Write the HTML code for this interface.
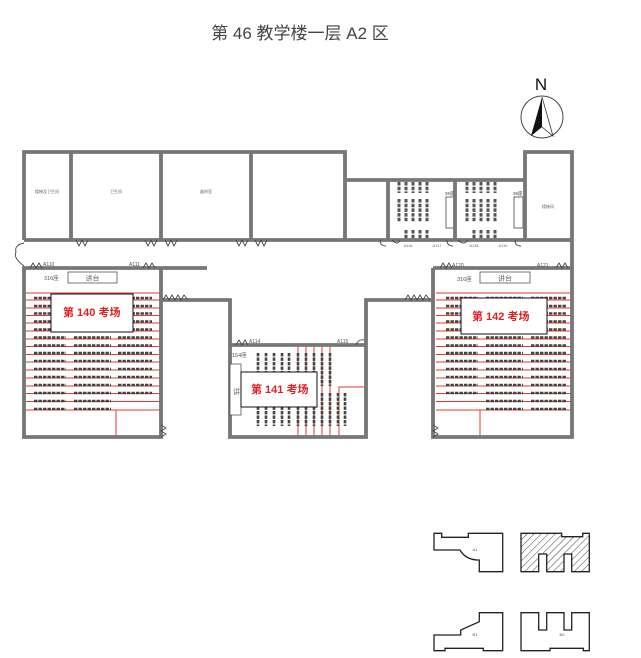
<!DOCTYPE html>
<html><head><meta charset="utf-8"><style>
html,body{margin:0;padding:0;background:#fff;}
svg{display:block;}
text{font-family:"Liberation Sans","Noto Sans CJK SC",sans-serif;}
</style></head><body>
<svg width="641" height="658" viewBox="0 0 641 658" xmlns="http://www.w3.org/2000/svg">
<defs>
<g id="r3" stroke="#444" stroke-width="2.6" stroke-dasharray="3.4 1.1" fill="none">
<path d="M34 0H66M74 0H111M118 0H152"/></g>
<g id="r2a" stroke="#444" stroke-width="2.6" stroke-dasharray="3.4 1.1" fill="none">
<path d="M34 0H66M74 0H111"/></g>
<g id="q3" stroke="#444" stroke-width="2.6" stroke-dasharray="3.4 1.1" fill="none">
<path d="M446 0H478M486 0H523M531 0H566"/></g>
<g id="q2" stroke="#444" stroke-width="2.6" stroke-dasharray="3.4 1.1" fill="none">
<path d="M486 0H523M531 0H566"/></g>
<g id="cls" stroke="#555" stroke-width="3" stroke-dasharray="3.5 1.2" fill="none">
<path d="M399 182V193M406 182V193M413 182V193M420 182V193M427 182V193M399 199V222M406 199V222M413 199V222M420 199V222M427 199V222M406 230V239M413 230V239M420 230V239M427 230V239"/></g>
</defs>

<text x="300" y="39" font-size="17" fill="#444" text-anchor="middle">第 46 教学楼一层 A2 区</text>

<!-- compass -->
<text x="541" y="90" font-size="17" fill="#111" text-anchor="middle">N</text>
<circle cx="542" cy="117" r="21" fill="none" stroke="#444" stroke-width="1"/>
<path d="M542 97 L531 136 L542 127 Z" fill="#111"/>
<path d="M542 97 L553 136 L542 127" fill="none" stroke="#333" stroke-width="0.8"/>

<!-- red lines -->
<g stroke="#e53935" stroke-width="1" fill="none">
<path d="M26 293H160M26 300H160M26 308H160M26 315.5H160M26 323H160M26 331H160M26 339H160M26 346.5H160M26 354.5H160M26 362H160M26 370H160M26 378H160M26 386H160M26 393.5H160M26 401.5H160M26 410H160 M116 410V437"/>
<path d="M436 293H572M436 300H572M436 308H572M436 315.5H572M436 323H572M436 331H572M436 339H572M436 346.5H572M436 354.5H572M436 362H572M436 370H572M436 378H572M436 386H572M436 393.5H572M436 401.5H572M436 410H572 M480 410V437"/>
<path d="M298 347V437M306 347V437M314 347V437M322 347V437M330 347V437M339 437V387H366"/>
</g>
<!-- seats 140 -->
<use href="#r3" y="298"/><use href="#r3" y="306"/><use href="#r3" y="313.5"/><use href="#r3" y="321.5"/><use href="#r3" y="329.5"/><use href="#r3" y="337.5"/><use href="#r3" y="345.5"/><use href="#r3" y="353"/><use href="#r3" y="361"/><use href="#r3" y="369"/><use href="#r3" y="377"/><use href="#r3" y="385"/><use href="#r3" y="393"/><use href="#r2a" y="401"/><use href="#r2a" y="409"/>
<!-- seats 142 -->
<use href="#q3" y="298"/><use href="#q3" y="306"/><use href="#q3" y="313.5"/><use href="#q3" y="321.5"/><use href="#q3" y="329.5"/><use href="#q3" y="337.5"/><use href="#q3" y="345.5"/><use href="#q3" y="353"/><use href="#q3" y="361"/><use href="#q3" y="369"/><use href="#q3" y="377"/><use href="#q3" y="385"/><use href="#q3" y="393"/><use href="#q2" y="401"/><use href="#q2" y="409"/>
<!-- seats 141 -->
<g stroke="#444" stroke-width="2.6" stroke-dasharray="3.4 1.1" fill="none">
<path d="M258 353V379M266 353V379M274 353V379M282 353V379M289 353V379M298 353V379M306 353V379M314 353V379M322 353V386M330 353V386 M258 393V426M266 393V426M274 393V426M282 393V426M289 393V426M298 393V426M306 393V426M314 393V426M322 393V426M330 393V426M338 393V426M345 393V426"/>
</g>
<!-- classrooms -->
<use href="#cls"/><use href="#cls" x="68"/>
<g fill="#fff" stroke="#444" stroke-width="0.8">
<rect x="446" y="197" width="9" height="31"/><rect x="514" y="197" width="9" height="31"/>
</g>
<text x="445" y="195" font-size="4.5" fill="#444">36座</text>
<text x="513" y="195" font-size="4.5" fill="#444">36座</text>

<!-- walls -->
<g fill="none" stroke-linejoin="miter">
<path id="w" d="M24 240V152H345V180H525V152H572V437H433V268M433 300H366V437H230V300H161M161 268V437H24V268H207M433 268H572M24 240H572M71 152V240M161 152V240M251 152V240M345 180V240M388 180V240M455 180V240M525 180V240M230 345H366" stroke="#777" stroke-width="3.6"/>
<use href="#w" stroke="#fff" stroke-width="1.2"/>
</g>
<!-- doors -->
<g fill="none" stroke="#444" stroke-width="0.9">
<path d="M24 243 Q14 245 16 252 Q13 258 24 266"/>
<path d="M30 268 L33 263 L36 268 L39 263 L42 268"/>
<path d="M143 268 L146 263 L149 268 L152 263 L155 268"/>
<path d="M76 240 L79 246 L82 240 L85 246 L88 240"/>
<path d="M145 240 L148 246 L151 240 L154 246 L157 240"/>
<path d="M165 240 L168 246 L171 240 L174 246 L177 240"/>
<path d="M236 240 L239 246 L242 240 L245 246 L248 240"/>
<path d="M255 240 L258 246 L261 240 L264 246 L267 240"/>
<path d="M163 300 L166 295 L169 300 L172 295 L175 300 L178 295 L181 300 L184 295 L188 300"/>
<path d="M236 345 L239 340 L242 345 L245 340 L248 345"/>
<path d="M356 345 Q358 339 364 340"/>
<path d="M161 425 L166 428 L161 431 L166 434 L161 437"/>
<path d="M405 300 L408 295 L411 300 L414 295 L417 300 L420 295 L423 300 L426 295 L430 300"/>
<path d="M433 425 L438 428 L433 431 L438 434 L433 437"/>
<path d="M440 268 L443 263 L446 268 L449 263 L452 268"/>
<path d="M556 268 L559 263 L562 268 L565 263 L568 268"/>
<path d="M380 240 Q380 246 386 246 M392 240 Q398 246 400 240"/>
<path d="M447 240 Q447 246 453 246 M458 240 Q464 246 468 240"/>
<path d="M515 240 Q515 246 521 246"/>
</g>

<!-- room 140 -->
<rect x="68" y="272" width="49" height="11" fill="#fff" stroke="#555" stroke-width="0.8"/>
<text x="92.5" y="280.5" font-size="7" fill="#666" text-anchor="middle">讲台</text>
<text x="44" y="280" font-size="5.5" fill="#555">316座</text>
<text x="43" y="266" font-size="5" fill="#555">A110</text>
<text x="129" y="266" font-size="5" fill="#555">A111</text>
<rect x="51" y="294" width="82" height="38" fill="#fff" stroke="#111" stroke-width="1"/>
<text x="63" y="316" font-size="11" font-weight="bold" fill="#e02020">第 140 考场</text>

<!-- room 142 -->
<rect x="480" y="272" width="50" height="11" fill="#fff" stroke="#555" stroke-width="0.8"/>
<text x="505" y="280.5" font-size="7" fill="#666" text-anchor="middle">讲台</text>
<text x="457" y="281" font-size="5.5" fill="#555">316座</text>
<text x="452" y="267" font-size="5" fill="#555">A120</text>
<text x="537" y="267" font-size="5" fill="#555">A121</text>
<rect x="461" y="298" width="86" height="36" fill="#fff" stroke="#111" stroke-width="1"/>
<text x="472" y="320" font-size="11" font-weight="bold" fill="#e02020">第 142 考场</text>

<!-- room 141 -->
<rect x="230" y="364" width="11" height="51" fill="#fff" stroke="#555" stroke-width="0.8"/>
<text x="233" y="394" font-size="7" fill="#666">讲台</text>
<rect x="241" y="372" width="76" height="35" fill="#fff" stroke="#111" stroke-width="1"/>
<text x="251" y="393" font-size="11" font-weight="bold" fill="#e02020">第 141 考场</text>
<text x="232" y="357" font-size="5.5" fill="#555">154座</text>
<text x="249" y="343" font-size="5" fill="#555">A114</text>
<text x="337" y="343" font-size="5" fill="#555">A115</text>

<!-- top room labels -->
<g font-size="4" fill="#666" text-anchor="middle">
<text x="47" y="193">楼梯及卫生间</text>
<text x="116" y="193">卫生间</text>
<text x="206" y="193">器材室</text>
<text x="548" y="208">楼梯间</text>
<text x="408" y="247">A116</text><text x="437" y="247">A117</text>
<text x="474" y="247">A118</text><text x="503" y="247">A119</text>
</g>

<!-- thumbnails -->
<defs><pattern id="hatch" width="5" height="5" patternUnits="userSpaceOnUse" patternTransform="rotate(45)"><rect width="5" height="5" fill="#fff"/><line x1="0" y1="0" x2="0" y2="5" stroke="#444" stroke-width="1"/></pattern></defs>
<g fill="none" stroke="#222" stroke-width="1.3">
<path d="M434 533.3H441.7V537.3H468.3V533.3H502.7V571.7H479.3V560H476.7Q465 559 460 550H434Z" fill="#fff"/>
<path d="M521 533.3H561.7V536.7H582.7V533.3H589.3V571.7H571.7V554H564V571.7H546.7V554H538.7V571.7H521Z" fill="url(#hatch)"/>
<path d="M434 635H460.7V630L479.3 621.7V612.7H502.7V650.7H483.3V648.3H445V650.7H434Z"/>
<path d="M521 612.7H538.7V630H546.7V612.7H564V630H571.7V612.7H589.3V650.7H583.3V648.3H550V650.7H521Z"/>
</g>
<g font-size="4" fill="#555" text-anchor="middle">
<text x="475" y="551">A1</text><text x="475" y="636">B1</text><text x="562" y="636">B2</text>
</g>
</svg>
</body></html>
